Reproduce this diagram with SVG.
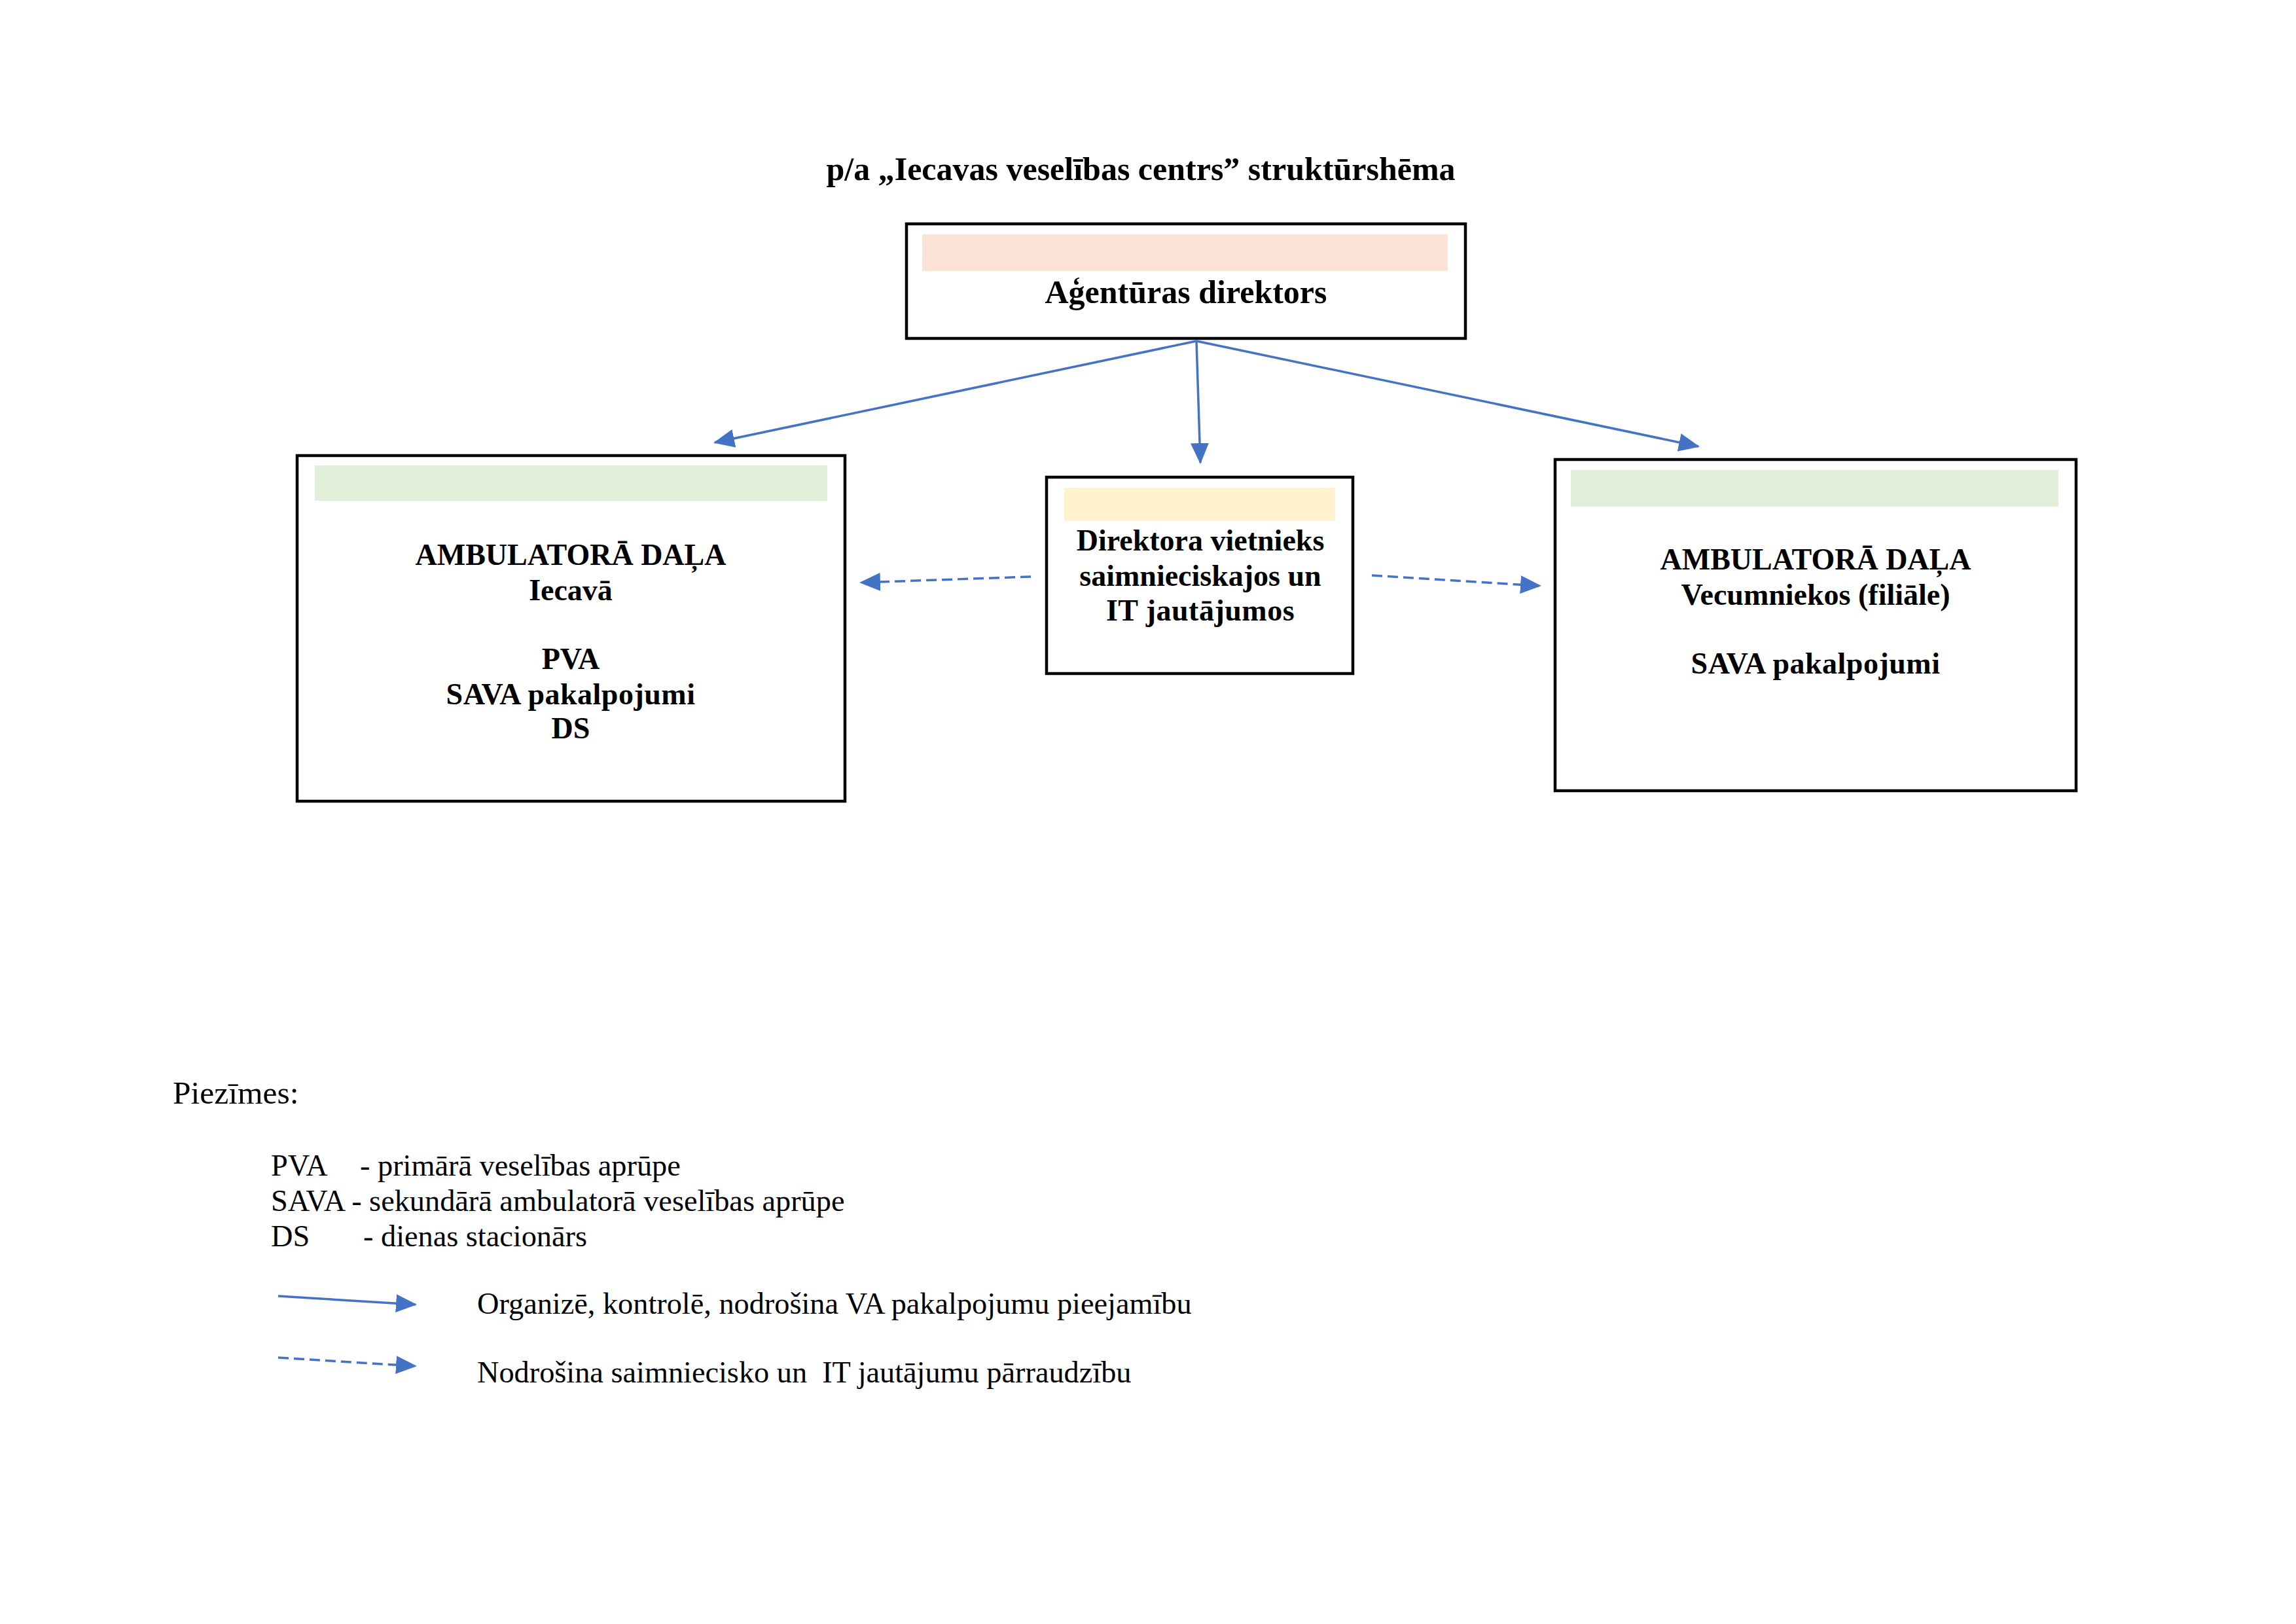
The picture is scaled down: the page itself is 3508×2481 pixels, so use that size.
<svg xmlns="http://www.w3.org/2000/svg" width="3508" height="2481" viewBox="0 0 3508 2481">
<style>
text{font-family:"Liberation Serif","Times New Roman",serif;fill:#000}
.b{font-weight:bold;font-size:46px;text-anchor:middle}
.t{font-weight:bold;font-size:50px;text-anchor:middle}
.r{font-size:46.3px}
.box{fill:#fff;stroke:#000;stroke-width:4.5}
.ln{stroke:#4472C4;stroke-width:3.5;fill:none}
.dl{stroke:#4472C4;stroke-width:3.5;fill:none;stroke-dasharray:16 8}
</style>
<defs>
<marker id="ah" markerUnits="userSpaceOnUse" markerWidth="32" markerHeight="28" refX="30" refY="14" orient="auto">
<path d="M0,0 L32,14 L0,28 Z" fill="#4472C4"/>
</marker>
</defs>
<rect width="3508" height="2481" fill="#fff"/>
<text class="t" x="1743" y="275">p/a „Iecavas veselības centrs” struktūrshēma</text>

<g id="director">
<rect class="box" x="1385" y="342" width="854" height="175"/>
<rect x="1409" y="358" width="803" height="56" fill="#FBE4D5"/>
<text class="t" x="1812" y="463">Aģentūras direktors</text>
</g>

<g id="iecava">
<rect class="box" x="454" y="696" width="837" height="528"/>
<rect x="481" y="711" width="783" height="54" fill="#E2EFD9"/>
<text class="b" x="872" y="863">AMBULATORĀ DAĻA</text>
<text class="b" x="872" y="917">Iecavā</text>
<text class="b" x="872" y="1022">PVA</text>
<text class="b" x="872" y="1076" style="letter-spacing:0.5px">SAVA pakalpojumi</text>
<text class="b" x="872" y="1128">DS</text>
</g>

<g id="deputy">
<rect class="box" x="1599" y="729" width="468" height="300"/>
<rect x="1626" y="745" width="414" height="51" fill="#FFF2CC"/>
<text class="b" x="1834" y="841">Direktora vietnieks</text>
<text class="b" x="1834" y="895">saimnieciskajos un</text>
<text class="b" x="1834" y="948" style="letter-spacing:0.5px">IT jautājumos</text>
</g>

<g id="vecumnieki">
<rect class="box" x="2376" y="702" width="796" height="506"/>
<rect x="2400" y="718" width="745" height="56" fill="#E2EFD9"/>
<text class="b" x="2774" y="870">AMBULATORĀ DAĻA</text>
<text class="b" x="2774" y="924">Vecumniekos (filiāle)</text>
<text class="b" x="2774" y="1029" style="letter-spacing:0.5px">SAVA pakalpojumi</text>
</g>

<g id="connectors">
<line class="ln" x1="1828" y1="521" x2="1092" y2="676" marker-end="url(#ah)"/>
<line class="ln" x1="1828" y1="521" x2="1834" y2="707" marker-end="url(#ah)"/>
<line class="ln" x1="1828" y1="521" x2="2595" y2="682" marker-end="url(#ah)"/>
<line class="dl" x1="1575" y1="881" x2="1315" y2="890" marker-end="url(#ah)"/>
<line class="dl" x1="2096" y1="879" x2="2353" y2="895" marker-end="url(#ah)"/>
</g>

<g id="legend">
<text class="r" x="264" y="1686" style="font-size:49.5px">Piezīmes:</text>
<text class="r" x="414" y="1796">PVA</text>
<text class="r" x="550" y="1796">- primārā veselības aprūpe</text>
<text class="r" x="414" y="1850">SAVA - sekundārā ambulatorā veselības aprūpe</text>
<text class="r" x="414" y="1904">DS</text>
<text class="r" x="555" y="1904">- dienas stacionārs</text>
<line class="ln" x1="425" y1="1980" x2="635" y2="1993" marker-end="url(#ah)"/>
<text class="r" x="729" y="2007">Organizē, kontrolē, nodrošina VA pakalpojumu pieejamību</text>
<line class="dl" x1="425" y1="2074" x2="635" y2="2087" marker-end="url(#ah)"/>
<text class="r" x="729" y="2112" style="white-space:pre">Nodrošina saimniecisko un  IT jautājumu pārraudzību</text>
</g>
</svg>
